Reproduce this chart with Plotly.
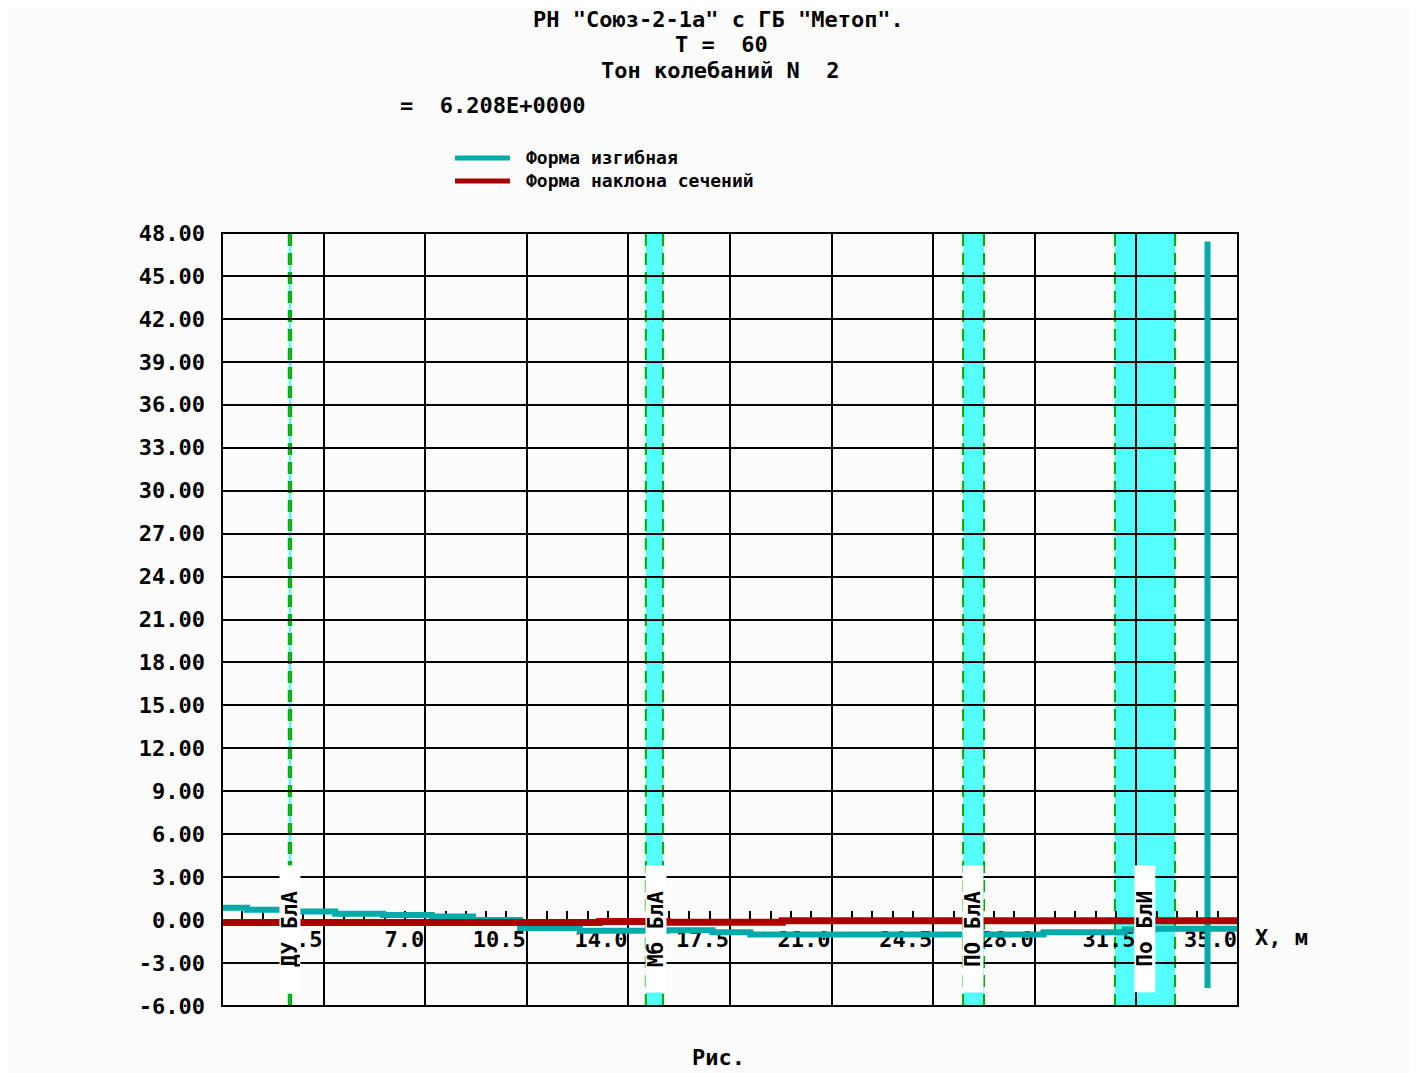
import plotly.graph_objects as go

# ---------------- data ----------------
x_tick_vals = [3.5, 7.0, 10.5, 14.0, 17.5, 21.0, 24.5, 28.0, 31.5, 35.0]
x_tick_text = ["3.5", "7.0", "10.5", "14.0", "17.5", "21.0", "24.5", "28.0", "31.5", "35.0"]

y_tick_vals = [-6, -3, 0, 3, 6, 9, 12, 15, 18, 21, 24, 27, 30, 33, 36, 39, 42, 45, 48]
y_tick_text = ["-6.00", "-3.00", "0.00", "3.00", "6.00", "9.00", "12.00", "15.00", "18.00",
               "21.00", "24.00", "27.00", "30.00", "33.00", "36.00", "39.00", "42.00",
               "45.00", "48.00"]

# Форма изгибная (step line)
bend_x = [0.0, 0.86, 2.6, 3.9, 5.55, 7.23, 8.65, 10.27, 12.33, 15.33, 16.9, 18.2,
          28.3, 31.1, 32.1, 33.95, 33.95, 33.95, 35.0]
bend_y = [0.87, 0.73, 0.60, 0.45, 0.35, 0.25, 0.0, -0.55, -0.75, -0.70, -0.85, -1.0,
          -0.85, -0.65, -0.60, 47.4, -4.75, -0.60, -0.60]

# Форма наклона сечений (step line)
slope_x = [0.0, 13.0, 15.33, 19.3, 35.0]
slope_y = [-0.17, -0.10, -0.15, -0.05, -0.05]

# Zones
zone_names = ["ДУ БлА", "Мб БлА", "ПО БлА", "По БлИ"]
zone_x0 = [2.30, 14.60, 25.53, 30.76]
zone_x1 = [2.38, 15.19, 26.25, 32.83]
zone_label_x = [2.34, 14.95, 25.87, 31.79]
zone_label_y = -0.62

title_lines = ['РН "Союз-2-1а" с ГБ "Метоп".', 'T =  60', 'Тон колебаний N  2']
freq_line = '=  6.208E+0000'
legend_names = ["Форма изгибная", "Форма наклона сечений"]

# ---------------- styling / geometry ----------------
OFF = 8                      # page margin of the html body
W, H = 1402, 1065
L, T = 222 - OFF, 233 - OFF
PW, PH = 1016, 773
R, B = W - L - PW, H - T - PH
Y_MIN, Y_MAX = -6, 48
X_MIN, X_MAX = 0, 35

CYAN = "#00AAAA"
RED = "#AA0000"
BAND = "#55FFFF"
GREEN = "#00AA00"
FONT = "DejaVu Sans Mono"


def px(xpix):
    return (xpix - OFF - L) / PW


def py(ypix):
    return 1 - (ypix - OFF - T) / PH


fnt = dict(family=FONT, size=22, color="black", weight="bold")

fig = go.Figure()
fig.add_trace(go.Scatter(x=bend_x, y=bend_y, mode="lines", line_shape="hv",
                         line=dict(color=CYAN, width=6), name=legend_names[0],
                         showlegend=False))
fig.add_trace(go.Scatter(x=slope_x, y=slope_y, mode="lines", line_shape="hv",
                         line=dict(color=RED, width=7), name=legend_names[1],
                         showlegend=False))

shapes = []
for x0, x1 in zip(zone_x0, zone_x1):
    shapes.append(dict(type="rect", xref="x", yref="paper", x0=x0, x1=x1, y0=0, y1=1,
                       fillcolor=BAND, line=dict(width=0), layer="below"))
    for xe in (x0, x1):
        shapes.append(dict(type="line", xref="x", yref="paper", x0=xe, x1=xe, y0=0, y1=1,
                           line=dict(color=GREEN, width=2, dash="12px,7px"), layer="below"))
# frame
shapes.append(dict(type="rect", xref="paper", yref="paper", x0=0, x1=1, y0=0, y1=1,
                   line=dict(color="black", width=2), fillcolor="rgba(0,0,0,0)", layer="above"))
# legend samples
for ypix, col in ((158, CYAN), (181, RED)):
    shapes.append(dict(type="line", xref="paper", yref="paper", x0=px(455), x1=px(510),
                       y0=py(ypix), y1=py(ypix), line=dict(color=col, width=5)))

annotations = []
for txt, xc, yc in zip(title_lines, (718, 721, 720), (20, 44, 70)):
    annotations.append(dict(text=txt, xref="paper", yref="paper", x=px(xc), y=py(yc),
                            xanchor="center", yanchor="middle", showarrow=False, font=fnt))
annotations.append(dict(text=freq_line, xref="paper", yref="paper", x=px(398), y=py(105),
                        xanchor="left", yanchor="middle", showarrow=False, font=fnt))
annotations.append(dict(text="<br>".join(legend_names), xref="paper", yref="paper",
                        x=px(524), y=py(169), xanchor="left", yanchor="middle", align="left",
                        showarrow=False, font=dict(family=FONT, size=18, color="black",
                                                   weight="bold")))
annotations.append(dict(text="X, м", xref="paper", yref="paper", x=px(1253), y=py(937),
                        xanchor="left", yanchor="middle", showarrow=False, font=fnt))
annotations.append(dict(text="Рис.", xref="paper", yref="paper", x=px(718), y=py(1072),
                        xanchor="center", yanchor="bottom", showarrow=False, font=fnt))
for name, xl in zip(zone_names, zone_label_x):
    annotations.append(dict(text=name, xref="x", yref="y", x=xl, y=zone_label_y,
                            textangle=-90, showarrow=False, bgcolor="white",
                            width=126, height=20, borderpad=0,
                            font=dict(family=FONT, size=21, color="black", weight="bold")))

fig.update_layout(
    width=W, height=H, autosize=False,
    margin=dict(l=L, r=R, t=T, b=B, pad=0),
    paper_bgcolor="#FCFCFC", plot_bgcolor="#FCFCFC",
    showlegend=False,
    shapes=shapes, annotations=annotations,
    xaxis=dict(range=[X_MIN, X_MAX], anchor="free",
               position=(0 - Y_MIN) / (Y_MAX - Y_MIN),
               tickmode="array", tickvals=x_tick_vals, ticktext=x_tick_text,
               ticks="inside", ticklen=9, tickwidth=2, tickcolor="black",
               ticklabelposition="outside left", ticklabelstandoff=4,
               tickfont=fnt,
               minor=dict(tickmode="linear", tick0=0, dtick=0.7, ticks="inside",
                          ticklen=9, tickwidth=2, tickcolor="black", showgrid=False),
               showgrid=True, gridcolor="black", gridwidth=2,
               showline=False, zeroline=False, layer="below traces"),
    yaxis=dict(range=[Y_MIN, Y_MAX], tickmode="array", tickvals=y_tick_vals,
               ticktext=y_tick_text, ticks="", ticklabelstandoff=16, tickfont=fnt,
               showgrid=True, gridcolor="black", gridwidth=2,
               showline=False, zeroline=False),
)

fig.write_html("out.html")
